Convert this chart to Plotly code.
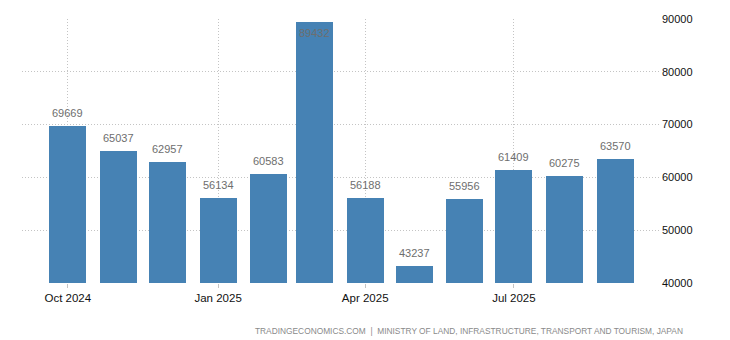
import plotly.graph_objects as go

# Monthly figures, Oct 2024 - Sep 2025
months = ["2024-10-01", "2024-11-01", "2024-12-01", "2025-01-01", "2025-02-01", "2025-03-01",
          "2025-04-01", "2025-05-01", "2025-06-01", "2025-07-01", "2025-08-01", "2025-09-01"]
values = [69669, 65037, 62957, 56134, 60583, 89432, 56188, 43237, 55956, 61409, 60275, 63570]

y_ticks = [40000, 50000, 60000, 70000, 80000, 90000]
x_ticks = ["2024-10-01", "2025-01-01", "2025-04-01", "2025-07-01"]
x_tick_labels = ["Oct 2024", "Jan 2025", "Apr 2025", "Jul 2025"]

BAR = "#4682b4"
GRID = "#c4c4c4"
LABEL = "#6e6e6e"
FONT = "Liberation Sans, Arial, sans-serif"
Y_MIN, Y_MAX = 40000, 90000

fig = go.Figure()
fig.add_trace(go.Bar(
    x=months, y=values,
    width=22.6 * 86400000,
    marker=dict(color=BAR, line=dict(width=0)),
    hoverinfo="x+y",
))

# value labels: above the bar, or tucked inside when the bar reaches the top
annotations = []
for m, v in zip(months, values):
    inside = v > Y_MAX - 3000
    annotations.append(dict(
        x=m, y=v, xref="x", yref="y", text=str(v), showarrow=False,
        yanchor="top" if inside else "bottom",
        yshift=-3 if inside else 5,
        font=dict(family=FONT, size=11, color=LABEL),
    ))

annotations.append(dict(
    xref="paper", yref="paper", x=1.0376, y=-0.155, xanchor="right", yanchor="top",
    text="TRADINGECONOMICS.COM  |  MINISTRY OF LAND, INFRASTRUCTURE, TRANSPORT AND TOURISM, JAPAN",
    showarrow=False, font=dict(family=FONT, size=8.35, color="#8a8a8a"),
))

fig.update_layout(
    width=730, height=340,
    margin=dict(l=22, r=69, t=19, b=57),
    paper_bgcolor="white", plot_bgcolor="white",
    showlegend=False,
    bargap=0,
    annotations=annotations,
    xaxis=dict(
        type="date",
        range=["2024-09-03", "2025-09-29"],
        tickvals=x_ticks, ticktext=x_tick_labels,
        showgrid=True, gridcolor=GRID, griddash="1px,2px", gridwidth=1,
        ticks="outside", ticklen=4, tickcolor=GRID,
        tickfont=dict(family=FONT, size=11.5, color="#111111"),
        showline=False, zeroline=False,
    ),
    yaxis=dict(
        side="right",
        range=[Y_MIN, Y_MAX],
        tickvals=y_ticks, ticktext=[str(t) for t in y_ticks],
        showgrid=True, gridcolor=GRID, griddash="1px,2px", gridwidth=1,
        tickfont=dict(family=FONT, size=11, color="#111111"),
        showline=False, zeroline=False, ticks="",
    ),
)

fig.write_html("out.html")
